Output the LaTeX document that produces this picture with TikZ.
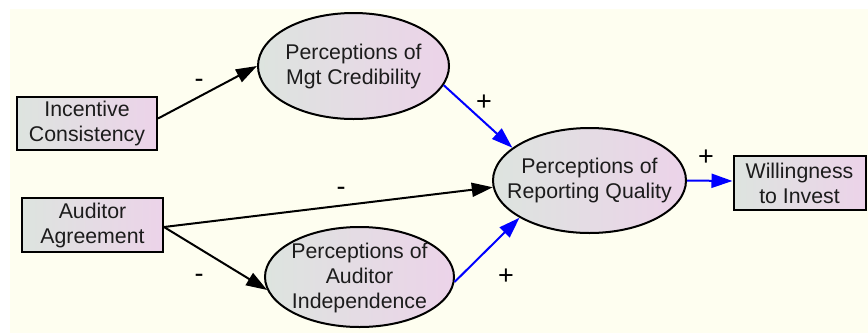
\documentclass[tikz,border=0pt]{standalone}
\usepackage{fontspec}
\setmainfont{Liberation Sans}
\usetikzlibrary{shapes.geometric,arrows.meta}
\definecolor{paper}{HTML}{FEFEF0}
\definecolor{shadeL}{HTML}{DDE4DF}
\definecolor{shadeR}{HTML}{ECD3E9}
\definecolor{ink}{HTML}{1C1C1C}
\definecolor{posblue}{HTML}{0000FF}
\tikzset{
  base/.style={draw=black, line width=2pt, left color=shadeL, right color=shadeR,
    text=ink, align=center, inner sep=0pt,
    font=\fontsize{21.3}{25}\selectfont},
  obsbox/.style={base, rectangle},
  latent/.style={base, ellipse},
  nodetext/.style={text=ink, align=center, inner sep=0pt,
    font=\fontsize{21.3}{25}\selectfont},
  negarrow/.style={draw=black, line width=2pt, -{Triangle[length=21pt,width=14pt]}},
  posarrow/.style={draw=posblue, line width=2pt, -{Triangle[length=21pt,width=14pt]}},
  sign/.style={inner sep=0pt, text=black, font=\fontsize{27}{30}\selectfont},
}
\begin{document}
\begin{tikzpicture}[x=1pt, y=-1pt]
  % canvas
  \useasboundingbox (0,0) rectangle (868,333);
  \fill[white] (0,0) rectangle (868,333);
  \fill[paper] (10,9) rectangle (868,333);

  % observed variables
  \node[obsbox, minimum width=140pt, minimum height=53pt] (ic) at (87,123.5) {Incentive\\Consistency};
  \node[obsbox, minimum width=141pt, minimum height=54pt] (aa) at (92.5,225) {Auditor\\Agreement};
  \node[obsbox, minimum width=132pt, minimum height=54pt] (wi) at (799.5,183) {Willingness\\to Invest};

  % perceptions (outline first, wording on top)
  \node[latent, minimum width=191pt, minimum height=106pt] (mgt) at (353.5,66) {};
  \node[latent, minimum width=189pt, minimum height=100pt] (ind) at (359.5,277) {};
  \node[latent, minimum width=193pt, minimum height=105pt] (rq) at (589.5,180.5) {};
  \node[nodetext] (mgt-t) at (mgt) {Perceptions of\\Mgt Credibility};
  \node[nodetext] (ind-t) at ([yshift=-1pt]ind) {Perceptions of\\Auditor\\Independence};
  \node[nodetext] (rq-t) at (rq) {Perceptions of\\Reporting Quality};

  % paths
  \draw[negarrow] ([yshift=5pt]ic.east) -- (mgt.west);
  \draw[negarrow] ([yshift=-2pt]aa.east) -- (rq.184);
  \draw[negarrow] ([yshift=-2pt]aa.east) -- (ind.188);
  \draw[posarrow] (mgt.-12) -- (rq.157);
  \draw[posarrow] (ind.-3) -- (rq.208);
  \draw[posarrow] (rq.east) -- ([yshift=2pt]wi.west);

  % signs of the effects
  \node[sign] (s1) at (199,83) {-};
  \node[sign] (s2) at (341,191) {-};
  \node[sign] (s3) at (199,278) {-};
  \node[sign] (s4) at (484,103) {+};
  \node[sign] (s5) at (506,277) {+};
  \node[sign] (s6) at (706,158) {+};
\end{tikzpicture}
\end{document}
